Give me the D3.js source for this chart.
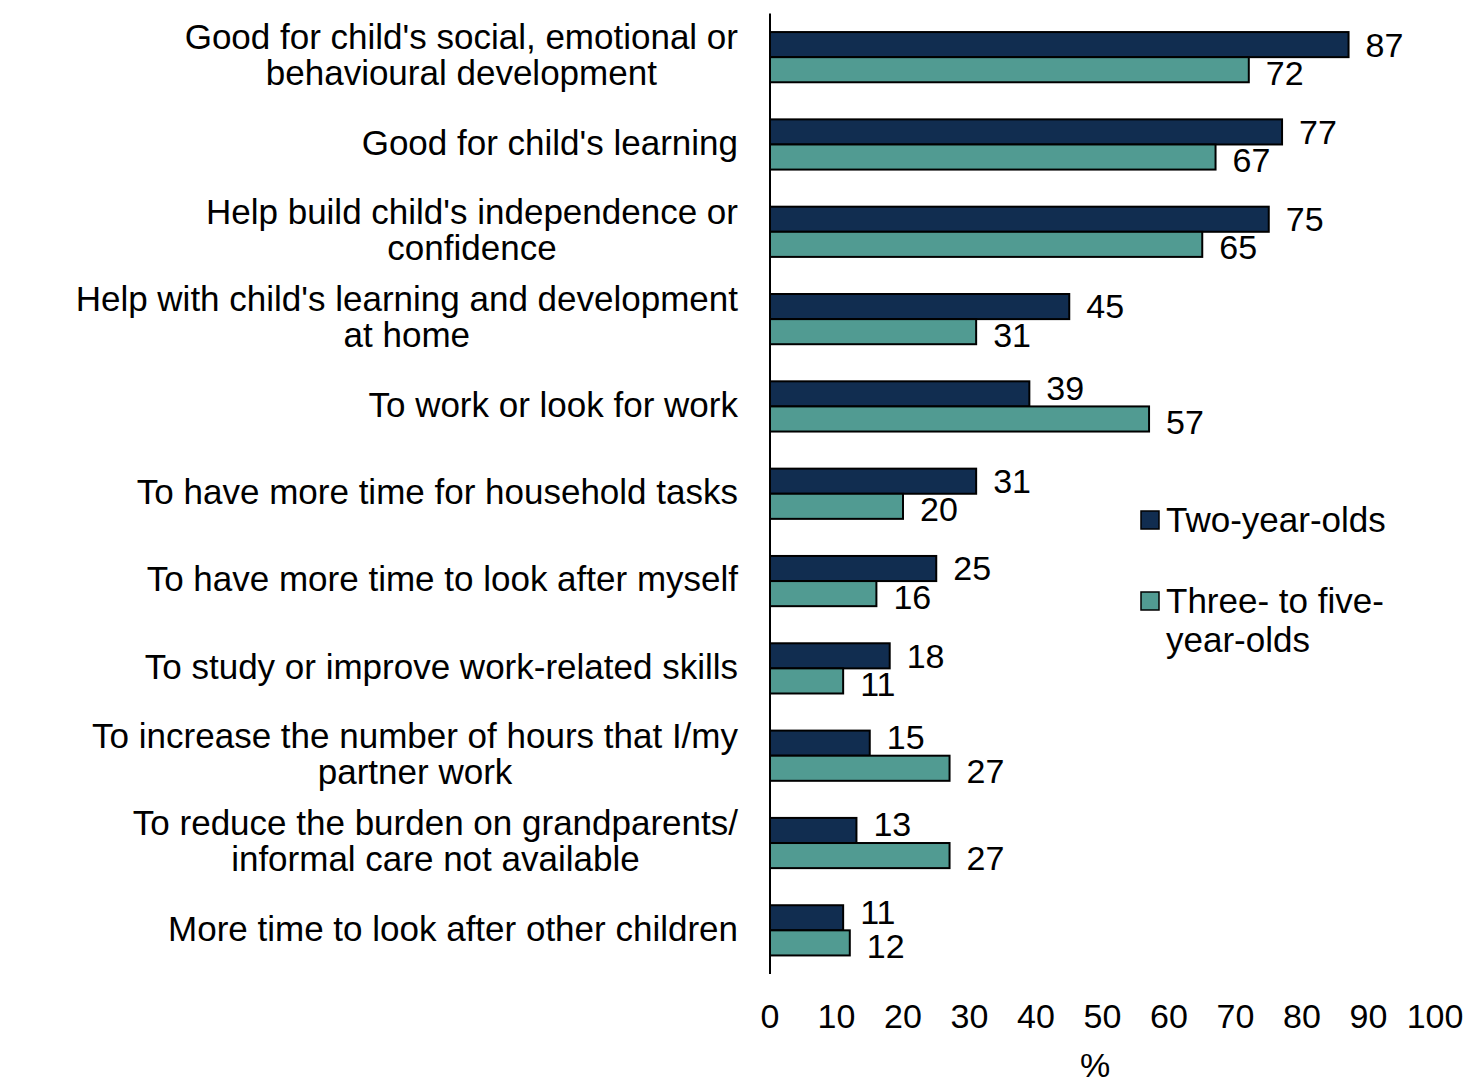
<!DOCTYPE html>
<html>
<head>
<meta charset="utf-8">
<script src="https://cdn.jsdelivr.net/npm/d3@7"></script>
<style>
  body { margin: 0; background: #fff; }
  svg text { font-family: "Liberation Sans", Arial, sans-serif; fill: #000; }
</style>
</head>
<body>
<script>
// reasons for using childcare, % of parents
const categories = [
  "Good for child's social, emotional or\nbehavioural development",
  "Good for child's learning",
  "Help build child's independence or\nconfidence",
  "Help with child's learning and development\nat home",
  "To work or look for work",
  "To have more time for household tasks",
  "To have more time to look after myself",
  "To study or improve work-related skills",
  "To increase the number of hours that I/my\npartner work",
  "To reduce the burden on grandparents/\ninformal care not available",
  "More time to look after other children"
];
const twoYearOlds = [87, 77, 75, 45, 39, 31, 25, 18, 15, 13, 11];
const threeToFive = [72, 67, 65, 31, 57, 20, 16, 11, 27, 27, 12];
const seriesNames = ["Two-year-olds", "Three- to five-\nyear-olds"];
const xTicks = [0, 10, 20, 30, 40, 50, 60, 70, 80, 90, 100];

const width = 1480, height = 1090;
const colors = ["#112d50", "#519b92"];
const textSize = 35, numSize = 34;

const svg = d3.select("body").append("svg")
  .attr("width", width)
  .attr("height", height);

let xScale = d3.scaleLinear()
  .domain([0, 100])
  .range([770, 1435]);

let yScale = d3.scaleBand()
  .domain(d3.range(categories.length))
  .range([13.5, 974])
  .paddingInner(0.425)
  .paddingOuter(0.2125);

let subScale = d3.scaleBand()
  .domain([0, 1])
  .range([0, yScale.bandwidth()]);

let rows = categories.map((c, i) => ({ label: c, vals: [twoYearOlds[i], threeToFive[i]], i: i }));

// bars
let groups = svg.append("g").attr("class", "bars")
  .selectAll("g")
  .data(rows)
  .enter()
  .append("g")
  .attr("transform", (d) => `translate(0, ${yScale(d.i)})`);

groups.selectAll("rect")
  .data((d) => d.vals.map((v, k) => ({ v: v, k: k })))
  .enter()
  .append("rect")
  .attr("x", xScale(0))
  .attr("y", (d) => subScale(d.k))
  .attr("width", (d) => xScale(d.v) - xScale(0))
  .attr("height", subScale.bandwidth())
  .attr("fill", (d) => colors[d.k])
  .attr("stroke", "#000")
  .attr("stroke-width", 2);

// value labels, nudged apart when the second series is longer
groups.selectAll("text.val")
  .data((d) => d.vals.map((v, k) => ({ v: v, k: k, other: d.vals[1 - k] })))
  .enter()
  .append("text")
  .attr("class", "val")
  .attr("x", (d) => xScale(d.v) + 17)
  .attr("y", (d) => {
    let c = subScale(d.k) + subScale.bandwidth() / 2;
    if (d.k === 0) return d.other > d.v ? c - 6 : c;
    return c + 3;
  })
  .attr("dy", "0.35em")
  .attr("font-size", numSize)
  .text((d) => d.v);

// y axis line
svg.append("line")
  .attr("x1", xScale(0)).attr("x2", xScale(0))
  .attr("y1", yScale.range()[0]).attr("y2", yScale.range()[1])
  .attr("stroke", "#000")
  .attr("stroke-width", 2);

// category labels: each block centred, block right edge at 738
const labelRight = 738, lineH = 36;
let catLabels = svg.append("g").attr("class", "cats")
  .selectAll("g")
  .data(rows)
  .enter()
  .append("g");

catLabels.each(function(d) {
  let g = d3.select(this);
  let lines = d.label.split("\n");
  let cy = yScale(d.i) + yScale.bandwidth() / 2;
  let texts = lines.map((ln, j) => g.append("text")
    .attr("font-size", textSize)
    .attr("text-anchor", "middle")
    .attr("y", cy + (j - (lines.length - 1) / 2) * lineH - 2)
    .attr("dy", "0.35em")
    .text(ln));
  let maxW = d3.max(texts, (t) => t.node().getComputedTextLength());
  texts.forEach((t) => t.attr("x", labelRight - maxW / 2));
});

// x tick labels (no axis line)
svg.append("g").attr("class", "x-ticks")
  .selectAll("text")
  .data(xTicks)
  .enter()
  .append("text")
  .attr("x", (d) => xScale(d))
  .attr("y", 1016)
  .attr("dy", "0.35em")
  .attr("text-anchor", "middle")
  .attr("font-size", numSize)
  .text((d) => d);

svg.append("text")
  .attr("x", 1095)
  .attr("y", 1065)
  .attr("dy", "0.35em")
  .attr("text-anchor", "middle")
  .attr("font-size", numSize)
  .text("%");

// legend
let legend = svg.append("g").attr("class", "legend");
const legendTop = [520, 601];
seriesNames.forEach((name, k) => {
  legend.append("rect")
    .attr("x", 1141)
    .attr("y", legendTop[k] - 9)
    .attr("width", 18)
    .attr("height", 18)
    .attr("fill", colors[k])
    .attr("stroke", "#000")
    .attr("stroke-width", 1.5);
  name.split("\n").forEach((ln, j) => {
    legend.append("text")
      .attr("x", 1166)
      .attr("y", legendTop[k] + j * 39)
      .attr("dy", "0.35em")
      .attr("font-size", textSize)
      .text(ln);
  });
});
</script>
</body>
</html>
